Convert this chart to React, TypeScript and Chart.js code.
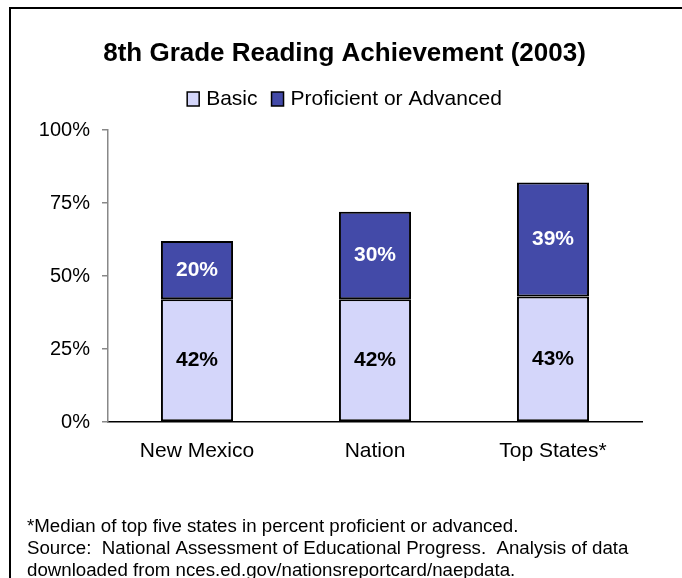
import React, { useEffect, useRef } from "react";
import { Chart, registerables } from "chart.js";

Chart.register(...registerables);

const categories = ["New Mexico", "Nation", "Top States*"];
const basicValues = [42, 42, 43];
const proficientValues = [20, 30, 39];
const seriesNames = ["Basic", "Proficient or Advanced"];
const yTicks = [0, 25, 50, 75, 100];
const titleText = "8th Grade Reading Achievement (2003)";
const footnoteLines = [
  "*Median of top five states in percent proficient or advanced.",
  "Source:  National Assessment of Educational Progress.  Analysis of data",
  "downloaded from nces.ed.gov/nationsreportcard/naepdata.",
];

const FONT = "Arial, 'Liberation Sans', Helvetica, sans-serif";
const BASIC_COLOR = "#D4D6FA";
const PROF_COLOR = "#434AA8";

const decorPlugin = {
  id: "decor",
  afterDraw(chart: any) {
    const ctx = chart.ctx as CanvasRenderingContext2D;
    ctx.save();
    // frame
    ctx.strokeStyle = "#000";
    ctx.lineWidth = 2;
    ctx.strokeRect(10, 8, 700, 600);

    // title
    ctx.fillStyle = "#000";
    ctx.font = `bold 26px ${FONT}`;
    ctx.textAlign = "center";
    ctx.textBaseline = "alphabetic";
    ctx.fillText(titleText, 344.5, 61);

    // legend
    ctx.font = `21px ${FONT}`;
    ctx.textAlign = "left";
    const boxW = 12;
    const boxH = 14;
    const gapText = 7;
    const gapItem = 14;
    const colors = [BASIC_COLOR, PROF_COLOR];
    const widths = seriesNames.map((n) => ctx.measureText(n).width);
    let total = 0;
    widths.forEach((w, i) => {
      total += boxW + gapText + w + (i < widths.length - 1 ? gapItem : 0);
    });
    let x = 344.5 - total / 2;
    seriesNames.forEach((n, i) => {
      ctx.fillStyle = colors[i];
      ctx.fillRect(x, 92, boxW, boxH);
      ctx.strokeStyle = "#000";
      ctx.lineWidth = 1.5;
      ctx.strokeRect(x, 92, boxW, boxH);
      ctx.fillStyle = "#000";
      ctx.fillText(n, x + boxW + gapText, 105);
      x += boxW + gapText + widths[i] + gapItem;
    });

    // footnotes
    ctx.font = `18.7px ${FONT}`;
    ctx.fillStyle = "#000";
    const baselines = [532, 554, 575.5];
    footnoteLines.forEach((line, i) => {
      ctx.fillText(line, 27, baselines[i]);
    });

    // data labels
    ctx.font = `bold 21px ${FONT}`;
    ctx.textAlign = "center";
    ctx.textBaseline = "middle";
    chart.data.datasets.forEach((ds: any, di: number) => {
      const meta = chart.getDatasetMeta(di);
      meta.data.forEach((bar: any, i: number) => {
        const top = Math.min(bar.y, bar.base);
        const bottom = Math.max(bar.y, bar.base);
        ctx.fillStyle = di === 0 ? "#000" : "#fff";
        ctx.fillText(`${ds.data[i]}%`, bar.x, (top + bottom) / 2);
      });
    });
    ctx.restore();
  },
};

export default function App() {
  const canvasRef = useRef<HTMLCanvasElement | null>(null);

  useEffect(() => {
    if (!canvasRef.current) return;
    const chart = new Chart(canvasRef.current, {
      type: "bar",
      data: {
        labels: categories,
        datasets: [
          {
            label: seriesNames[0],
            data: basicValues,
            backgroundColor: BASIC_COLOR,
            borderColor: "#000",
            borderWidth: 2,
            borderSkipped: false,
          },
          {
            label: seriesNames[1],
            data: proficientValues,
            backgroundColor: PROF_COLOR,
            borderColor: "#000",
            borderWidth: 2,
            borderSkipped: false,
          },
        ],
      },
      options: {
        responsive: false,
        animation: false,
        devicePixelRatio: 1,
        layout: { padding: { top: 130, left: 24, right: 40, bottom: 114 } },
        datasets: {
          bar: { categoryPercentage: 1, barPercentage: 0.405 },
        },
        plugins: {
          legend: { display: false },
          title: { display: false },
          tooltip: { enabled: false },
        },
        scales: {
          x: {
            stacked: true,
            grid: { display: false, drawTicks: false },
            border: { display: true, color: "#000", width: 1.5 },
            ticks: {
              color: "#000",
              padding: 17,
              font: { family: FONT, size: 21 },
            },
            afterFit(scale: any) {
              scale.height = 42;
            },
          },
          y: {
            stacked: true,
            min: 0,
            max: 100,
            afterBuildTicks(scale: any) {
              scale.ticks = yTicks.map((v) => ({ value: v }));
            },
            grid: {
              display: true,
              drawOnChartArea: false,
              drawTicks: true,
              tickLength: 6,
              color: "#888",
              lineWidth: 1.5,
            },
            border: { display: true, color: "#888", width: 1.5 },
            ticks: {
              color: "#000",
              padding: 12,
              font: { family: FONT, size: 20 },
              callback: (v: any) => `${v}%`,
            },
            afterFit(scale: any) {
              scale.width = 84;
            },
          },
        },
      },
      plugins: [decorPlugin],
    } as any);
    return () => chart.destroy();
  }, []);

  return (
    <div style={{ position: "absolute", left: 0, top: 0, width: 682, height: 578, background: "#fff" }}>
      <canvas ref={canvasRef} width={682} height={578} style={{ display: "block" }} />
    </div>
  );
}
